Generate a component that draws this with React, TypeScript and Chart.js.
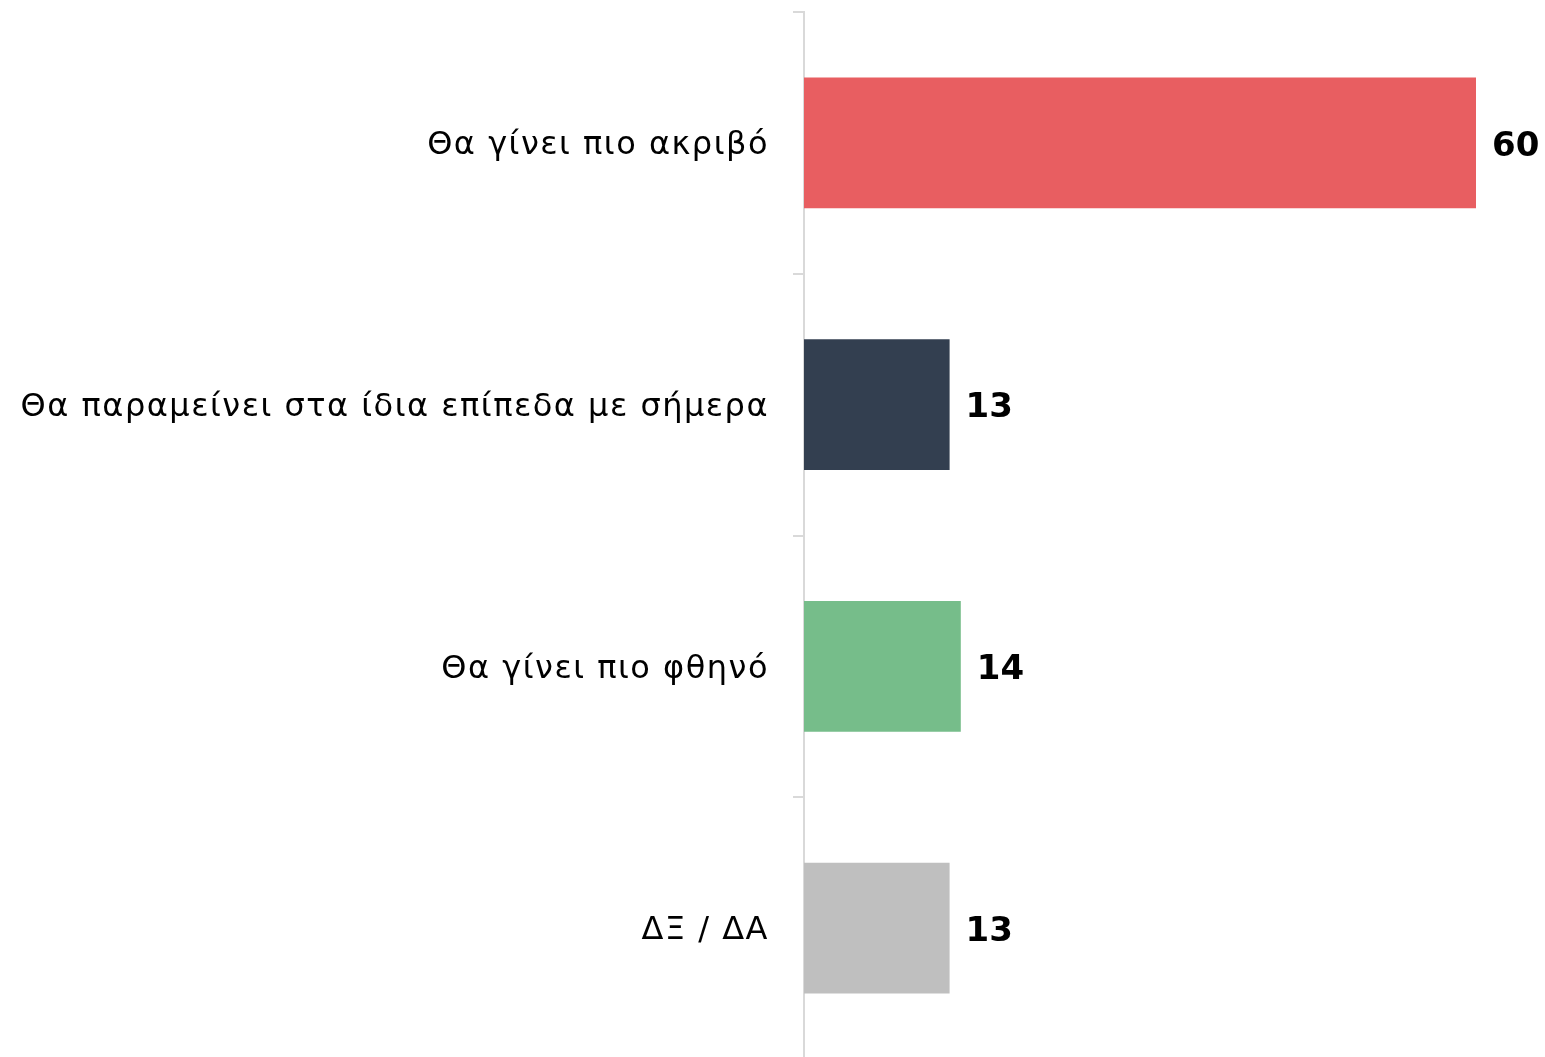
import React, { useEffect, useRef } from "react";
import { Chart, registerables } from "chart.js";

Chart.register(...registerables);

const categories = [
  "Θα γίνει πιο ακριβό",
  "Θα παραμείνει στα ίδια επίπεδα με σήμερα",
  "Θα γίνει πιο φθηνό",
  "ΔΞ / ΔΑ",
];
const values = [60, 13, 14, 13];
const barColors = ["#E85E61", "#333F50", "#76BD8A", "#BFBFBF"];

const FONT = "'DejaVu Sans', sans-serif";

const spacing = {
  id: "spacing",
  beforeDraw(chart: any) {
    (chart.ctx as any).letterSpacing = "1.5px";
  },
};

const valueLabels = {
  id: "valueLabels",
  afterDatasetsDraw(chart: any) {
    const ctx = chart.ctx;
    const meta = chart.getDatasetMeta(0);
    ctx.save();
    (ctx as any).letterSpacing = "0px";
    ctx.font = `bold 34px ${FONT}`;
    ctx.fillStyle = "#000000";
    ctx.textAlign = "left";
    ctx.textBaseline = "middle";
    meta.data.forEach((bar: any, i: number) => {
      ctx.fillText(String(values[i]), bar.x + 16, bar.y + 4);
    });
    ctx.restore();
  },
};

export default function App() {
  const ref = useRef<HTMLCanvasElement | null>(null);
  useEffect(() => {
    document.body.style.margin = "0";
    const chart = new Chart(ref.current!, {
      type: "bar",
      data: {
        labels: categories,
        datasets: [
          {
            data: values,
            backgroundColor: barColors,
            barPercentage: 0.5,
            categoryPercentage: 1,
          },
        ],
      },
      options: {
        indexAxis: "y",
        animation: false,
        responsive: false,
        layout: { padding: { top: 12, right: 69, bottom: 1, left: 0 } },
        plugins: { legend: { display: false }, tooltip: { enabled: false } },
        scales: {
          x: { display: false, min: 0, max: 60 },
          y: {
            afterFit: (scale: any) => {
              scale.width = 804;
              scale.paddingTop = 0;
              scale.paddingBottom = 0;
            },
            border: { display: true, color: "#D9D9D9", width: 2 },
            grid: {
              offset: true,
              drawOnChartArea: false,
              drawTicks: true,
              tickLength: 11,
              color: "#D9D9D9",
              lineWidth: 2,
            },
            ticks: {
              padding: 24,
              labelOffset: 3,
              color: "#000000",
              font: { family: FONT, size: 32 },
            },
          },
        },
      },
      plugins: [spacing, valueLabels],
    });
    return () => chart.destroy();
  }, []);
  return (
    <div style={{ position: "absolute", left: 0, top: 0, width: 1545, height: 1060 }}>
      <canvas ref={ref} width={1545} height={1060} style={{ display: "block" }} />
    </div>
  );
}
